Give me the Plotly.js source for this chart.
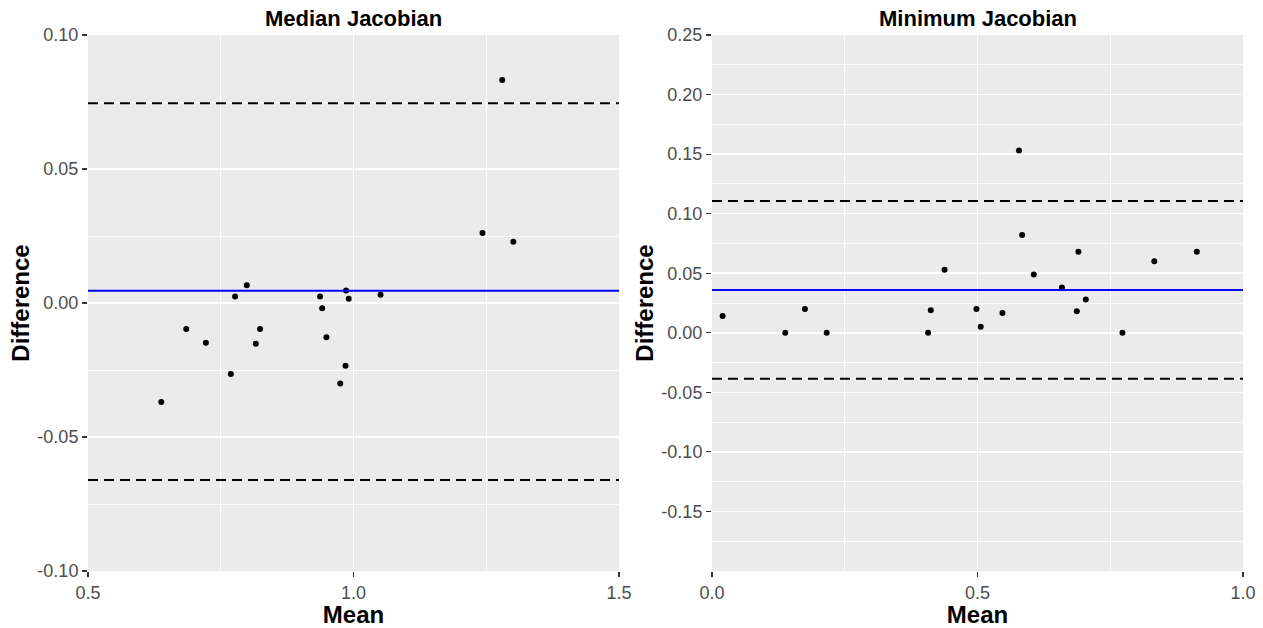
<!DOCTYPE html>
<html>
<head>
<meta charset="utf-8">
<script src="https://cdn.plot.ly/plotly-3.0.1.min.js"></script>
<style>html,body{margin:0;padding:0;background:#fff;}#chart{width:1263px;height:628px;}</style>
</head>
<body>
<div id="chart"></div>
<script>
// ---- Data ----
const panelTitles = ["Median Jacobian", "Minimum Jacobian"];

const leftMean = [0.638, 0.685, 0.722, 0.769, 0.777, 0.799, 0.816, 0.824, 0.937, 0.941,
                  0.949, 0.975, 0.985, 0.986, 0.991, 1.051, 1.243, 1.280, 1.301];
const leftDiff = [-0.0369, -0.0097, -0.0148, -0.0265, 0.0024, 0.0066, -0.0152, -0.0097, 0.0024, -0.0020,
                  -0.0128, -0.0300, -0.0234, 0.0047, 0.0016, 0.0031, 0.0261, 0.0832, 0.0229];
const leftBias = 0.0046;
const leftLimits = [-0.066, 0.0745];

const rightMean = [0.020, 0.138, 0.175, 0.216, 0.407, 0.412, 0.438, 0.498, 0.506, 0.547, 0.578,
                   0.584, 0.606, 0.659, 0.687, 0.690, 0.704, 0.773, 0.833, 0.913];
const rightDiff = [0.014, 0.000, 0.020, 0.000, 0.000, 0.019, 0.053, 0.020, 0.005, 0.0165, 0.153,
                   0.082, 0.049, 0.038, 0.018, 0.068, 0.028, 0.000, 0.060, 0.068];
const rightBias = 0.036;
const rightLimits = [-0.0386, 0.1107];

const leftXTickVals = [0.5, 1.0, 1.5];
const leftXTickText = ["0.5", "1.0", "1.5"];
const leftYTickVals = [-0.10, -0.05, 0.00, 0.05, 0.10];
const leftYTickText = ["-0.10", "-0.05", "0.00", "0.05", "0.10"];

const rightXTickVals = [0.0, 0.5, 1.0];
const rightXTickText = ["0.0", "0.5", "1.0"];
const rightYTickVals = [-0.15, -0.10, -0.05, 0.00, 0.05, 0.10, 0.15, 0.20, 0.25];
const rightYTickText = ["-0.15", "-0.10", "-0.05", "0.00", "0.05", "0.10", "0.15", "0.20", "0.25"];

const leftXRange = [0.5, 1.5], leftYRange = [-0.10, 0.10];
const rightXRange = [0.0, 1.0], rightYRange = [-0.20, 0.25];

// ---- Styling ----
const FONT = "Liberation Sans, Arial, sans-serif";
const tickFont = {family: FONT, size: 18, color: "#4D4D4D"};
const axTitleFont = {family: FONT, size: 24, color: "#000000", weight: "bold"};

function axis(range, tickvals, ticktext, minorD, minorTick0, domain, title, anchor, standoff) {
  return {
    domain: domain, anchor: anchor, range: range, fixedrange: true,
    tickmode: "array", tickvals: tickvals, ticktext: ticktext,
    ticks: "outside", ticklen: 5, tickwidth: 1.1, tickcolor: "#333333",
    tickfont: tickFont, showline: false, zeroline: false,
    showgrid: true, gridcolor: "#FFFFFF", gridwidth: 1.5,
    minor: {tickmode: "linear", tick0: minorTick0, dtick: minorD, showgrid: true,
            gridcolor: "#FFFFFF", gridwidth: 0.9, ticks: ""},
    title: {text: title, font: axTitleFont, standoff: standoff}
  };
}

const W = 1263, ml = 88, mr = 20;
const inner = W - ml - mr;
const leftDom = [0, (619 - ml) / inner];
const rightDom = [(712 - ml) / inner, 1];

const traces = [
  {x: leftMean, y: leftDiff, xaxis: "x", yaxis: "y", type: "scatter", mode: "markers",
   marker: {color: "#000000", size: 6}, hoverinfo: "skip", showlegend: false},
  {x: rightMean, y: rightDiff, xaxis: "x2", yaxis: "y2", type: "scatter", mode: "markers",
   marker: {color: "#000000", size: 6}, hoverinfo: "skip", showlegend: false}
];

function hline(xref, yref, yval, color, dash) {
  return {type: "line", xref: xref + " domain", yref: yref, x0: 0, x1: 1, y0: yval, y1: yval,
          line: {color: color, width: 2, dash: dash}, layer: "above"};
}

const shapes = [
  hline("x", "y", leftBias, "#0000FF", "solid"),
  hline("x", "y", leftLimits[0], "#000000", "10px,6px"),
  hline("x", "y", leftLimits[1], "#000000", "10px,6px"),
  hline("x2", "y2", rightBias, "#0000FF", "solid"),
  hline("x2", "y2", rightLimits[0], "#000000", "10px,6px"),
  hline("x2", "y2", rightLimits[1], "#000000", "10px,6px")
];

const titleFont = {family: FONT, size: 22, color: "#000000", weight: "bold"};
const annotations = [
  {text: panelTitles[0], xref: "x domain", yref: "paper", x: 0.5, y: 1, xanchor: "center",
   yanchor: "bottom", yshift: 2, showarrow: false, font: titleFont},
  {text: panelTitles[1], xref: "x2 domain", yref: "paper", x: 0.5, y: 1, xanchor: "center",
   yanchor: "bottom", yshift: 2, showarrow: false, font: titleFont}
];

const layout = {
  width: 1263, height: 628,
  margin: {l: ml, r: mr, t: 35, b: 57, pad: 0},
  paper_bgcolor: "#FFFFFF", plot_bgcolor: "#EBEBEB",
  showlegend: false,
  xaxis: axis(leftXRange, leftXTickVals, leftXTickText, 0.25, 0.5, leftDom, "Mean", "y", 0),
  yaxis: axis(leftYRange, leftYTickVals, leftYTickText, 0.025, -0.1, [0, 1], "Difference", "x", 0),
  xaxis2: axis(rightXRange, rightXTickVals, rightXTickText, 0.25, 0, rightDom, "Mean", "y2", 0),
  yaxis2: axis(rightYRange, rightYTickVals, rightYTickText, 0.025, -0.2, [0, 1], "Difference", "x2", 0),
  shapes: shapes,
  annotations: annotations
};

Plotly.newPlot("chart", traces, layout, {displayModeBar: false, staticPlot: true});
</script>
</body>
</html>
